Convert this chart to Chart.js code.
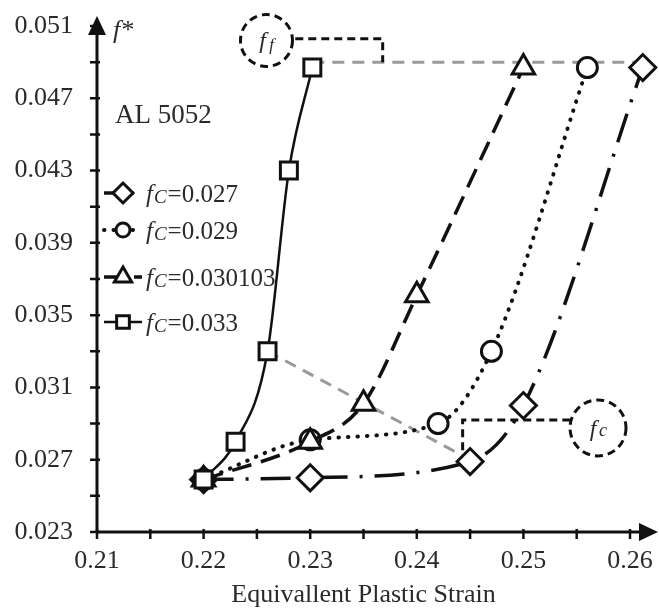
<!DOCTYPE html>
<html>
<head>
<meta charset="utf-8">
<script src="https://cdn.jsdelivr.net/npm/chart.js@4.4.1/dist/chart.umd.min.js"></script>
<style>
  html, body { margin: 0; padding: 0; background: #fff; }
  #wrap { width: 659px; height: 608px; }
</style>
</head>
<body>
<div id="wrap"><canvas id="chart" width="659" height="608"></canvas></div>
<script>
// ---- data ----
const strainC027 = [0.22, 0.23, 0.245, 0.25, 0.2612];
const fstarC027 = [0.0259, 0.0260, 0.0269, 0.0300, 0.0487];

const strainC029 = [0.22, 0.23, 0.242, 0.247, 0.256];
const fstarC029 = [0.0259, 0.0281, 0.0290, 0.0330, 0.0487];

const strainC030103 = [0.22, 0.23, 0.235, 0.24, 0.25];
const fstarC030103 = [0.0259, 0.0280, 0.0301, 0.0361, 0.0487];

const strainC033 = [0.22, 0.223, 0.226, 0.228, 0.2302];
const fstarC033 = [0.0259, 0.0280, 0.0330, 0.0430, 0.0487];

// ---- axis ticks ----
const xTickValues = [0.21, 0.22, 0.23, 0.24, 0.25, 0.26];
const xMinorTicks = [0.215, 0.225, 0.235, 0.245, 0.255];
const yTickValues = [0.023, 0.027, 0.031, 0.035, 0.039, 0.043, 0.047, 0.051];
const yMinorTicks = [0.025, 0.029, 0.033, 0.037, 0.041, 0.045, 0.049];

// ---- annotation anchors (data units) ----
const ffLevel = 0.049;          // grey dashed line at failure
const ffRange = [0.2302, 0.2612];
const fcSegment = [[0.226, 0.033], [0.245, 0.027]];
const ffCircle = { x: 0.2259, y: 0.0502 };
const fcCircle = { x: 0.2570, y: 0.02876 };
const ffBracket = [[0.2286, 0.0503], [0.2368, 0.0503], [0.2368, 0.0490]];
const fcBracket = [[0.2544, 0.0292], [0.2443, 0.0292], [0.2443, 0.0275]];

const INK = '#111';
const TEXT = '#2a2a2a';
const SERIF = '"Liberation Serif", "Times New Roman", serif';

function series(label, xs, ys, style, radius, dash, width, cap) {
    return {
        label: label,
        data: xs.map(function (x, i) { return { x: x, y: ys[i] }; }),
        borderColor: INK,
        backgroundColor: '#fff',
        borderWidth: width,
        borderDash: dash,
        borderCapStyle: cap || 'butt',
        pointStyle: style,
        pointRadius: radius,
        pointBorderWidth: 3,
        pointBackgroundColor: '#fff',
        pointBorderColor: INK,
        cubicInterpolationMode: 'monotone',
        clip: false,
        fill: false
    };
}

// first dataset is drawn on top
const sets = [
    series('0.033', strainC033, fstarC033, 'rect', 12, [], 2.5),
    series('0.030103', strainC030103, fstarC030103, 'triangle', 13, [20, 10], 3.5),
    series('0.029', strainC029, fstarC029, 'circle', 10, [0.5, 9], 4, 'round'),
    series('0.027', strainC027, fstarC027, 'rectRot', 13, [30, 12, 3, 12], 3.5)
];
// legend rows: diamond, circle, triangle, square
const legendOrder = [3, 2, 1, 0];

function dashedPath(ctx, pts, sx, sy) {
    ctx.beginPath();
    pts.forEach(function (p, i) {
        const x = sx.getPixelForValue(p[0]), y = sy.getPixelForValue(p[1]);
        if (i === 0) ctx.moveTo(x, y); else ctx.lineTo(x, y);
    });
    ctx.stroke();
}

const decor = {
    id: 'decor',
    beforeDatasetsDraw(chart) {
        const ctx = chart.ctx, sx = chart.scales.x, sy = chart.scales.y;
        ctx.save();
        ctx.strokeStyle = '#9a9a9a';
        ctx.lineWidth = 3;
        ctx.setLineDash([12, 8]);
        dashedPath(ctx, [[ffRange[0], ffLevel], [ffRange[1], ffLevel]], sx, sy);
        dashedPath(ctx, fcSegment, sx, sy);
        ctx.restore();
    },
    afterDraw(chart) {
        const ctx = chart.ctx, sx = chart.scales.x, sy = chart.scales.y;
        const a = chart.chartArea;
        const x0 = a.left, y0 = a.bottom;
        ctx.save();

        // axes with arrows
        ctx.strokeStyle = INK;
        ctx.fillStyle = INK;
        ctx.lineWidth = 3;
        ctx.beginPath();
        ctx.moveTo(x0, y0 + 1); ctx.lineTo(x0, 30);
        ctx.moveTo(x0 - 1, y0); ctx.lineTo(645, y0);
        ctx.stroke();
        ctx.beginPath();
        ctx.moveTo(x0, 16); ctx.lineTo(x0 - 9, 35); ctx.lineTo(x0 + 9, 35); ctx.closePath();
        ctx.fill();
        ctx.beginPath();
        ctx.moveTo(658, y0); ctx.lineTo(639, y0 - 9); ctx.lineTo(639, y0 + 9); ctx.closePath();
        ctx.fill();

        // tick marks
        ctx.lineWidth = 2.5;
        ctx.beginPath();
        yTickValues.concat(yMinorTicks).forEach(function (v) {
            const y = sy.getPixelForValue(v);
            ctx.moveTo(x0 - 7, y); ctx.lineTo(x0 + 3, y);
        });
        xTickValues.concat(xMinorTicks).forEach(function (v) {
            const x = sx.getPixelForValue(v);
            ctx.moveTo(x, y0 - 3); ctx.lineTo(x, y0 + 7);
        });
        ctx.stroke();

        // black dashed callouts
        ctx.lineWidth = 3;
        ctx.setLineDash([8, 5]);
        dashedPath(ctx, ffBracket, sx, sy);
        dashedPath(ctx, fcBracket, sx, sy);
        [ffCircle, fcCircle].forEach(function (c, i) {
            ctx.beginPath();
            ctx.arc(sx.getPixelForValue(c.x), sy.getPixelForValue(c.y), i === 0 ? 26 : 28, 0, Math.PI * 2);
            ctx.stroke();
        });
        ctx.setLineDash([]);

        // callout labels
        ctx.fillStyle = TEXT;
        ctx.textBaseline = 'alphabetic';
        ctx.textAlign = 'center';
        ctx.font = 'italic 24px ' + SERIF;
        ctx.fillText('f', sx.getPixelForValue(ffCircle.x) - 4, sy.getPixelForValue(ffCircle.y) + 8);
        ctx.font = 'italic 17px ' + SERIF;
        ctx.fillText('f', sx.getPixelForValue(ffCircle.x) + 5, sy.getPixelForValue(ffCircle.y) + 10);
        ctx.font = 'italic 24px ' + SERIF;
        ctx.fillText('f', sx.getPixelForValue(fcCircle.x) - 5, sy.getPixelForValue(fcCircle.y) + 8);
        ctx.font = 'italic 18px ' + SERIF;
        ctx.fillText('c', sx.getPixelForValue(fcCircle.x) + 5, sy.getPixelForValue(fcCircle.y) + 8);

        // axis name and material
        ctx.textAlign = 'left';
        ctx.font = 'italic 26px ' + SERIF;
        ctx.fillText('f*', 113, 38);
        ctx.font = '27px ' + SERIF;
        ctx.fillText('AL 5052', 115, 123);

        // legend
        const rows = [193, 230, 277, 322];
        legendOrder.forEach(function (di, r) {
            const ds = chart.data.datasets[di];
            const y = rows[r];
            ctx.strokeStyle = INK;
            ctx.lineWidth = ds.borderWidth;
            ctx.lineCap = ds.borderCapStyle;
            ctx.setLineDash(ds.borderDash);
            ctx.beginPath();
            ctx.moveTo(104, y); ctx.lineTo(142, y);
            ctx.stroke();
            ctx.setLineDash([]);
            ctx.lineCap = 'butt';
            ctx.fillStyle = '#fff';
            ctx.lineWidth = 3;
            Chart.helpers.drawPoint(ctx, {
                pointStyle: ds.pointStyle, radius: ds.pointRadius - 3, rotation: 0, borderWidth: 3
            }, 123, y);
            ctx.fillStyle = TEXT;
            let tx = 146;
            ctx.font = 'italic 25px ' + SERIF;
            ctx.fillText('f', tx, y + 9);
            tx += ctx.measureText('f').width + 1;
            ctx.font = 'italic 19px ' + SERIF;
            ctx.fillText('C', tx, y + 10);
            tx += ctx.measureText('C').width + 1;
            ctx.font = '25px ' + SERIF;
            ctx.fillText('=' + ds.label, tx, y + 9);
        });
        ctx.restore();
    }
};

new Chart(document.getElementById('chart'), {
    type: 'line',
    data: { datasets: sets },
    options: {
        responsive: false,
        animation: false,
        devicePixelRatio: 1,
        layout: { padding: { left: 0, right: 29, top: 26, bottom: 0 } },
        plugins: { legend: { display: false }, tooltip: { enabled: false } },
        scales: {
            x: {
                type: 'linear',
                min: 0.21,
                max: 0.26,
                afterBuildTicks: function (scale) {
                    scale.ticks = xTickValues.map(function (v) { return { value: v }; });
                },
                afterFit: function (scale) {
                    scale.height = 76;
                    scale.paddingLeft = 0;
                    scale.paddingRight = 0;
                },
                grid: { display: false },
                border: { display: false },
                ticks: {
                    color: TEXT,
                    padding: 6,
                    maxRotation: 0,
                    font: { family: SERIF, size: 26 },
                    callback: function (v) { return v.toFixed(2); }
                },
                title: {
                    display: true,
                    text: 'Equivallent Plastic Strain',
                    color: TEXT,
                    font: { family: SERIF, size: 26, lineHeight: 1 },
                    padding: { top: 0, bottom: 0 }
                }
            },
            y: {
                type: 'linear',
                min: 0.023,
                max: 0.051,
                afterBuildTicks: function (scale) {
                    scale.ticks = yTickValues.map(function (v) { return { value: v }; });
                },
                afterFit: function (scale) {
                    scale.width = 97;
                    scale.paddingTop = 0;
                    scale.paddingBottom = 0;
                },
                grid: { display: false },
                border: { display: false },
                ticks: {
                    color: TEXT,
                    padding: 16,
                    font: { family: SERIF, size: 26 },
                    callback: function (v) { return v.toFixed(3); }
                }
            }
        }
    },
    plugins: [decor]
});
</script>
</body>
</html>
